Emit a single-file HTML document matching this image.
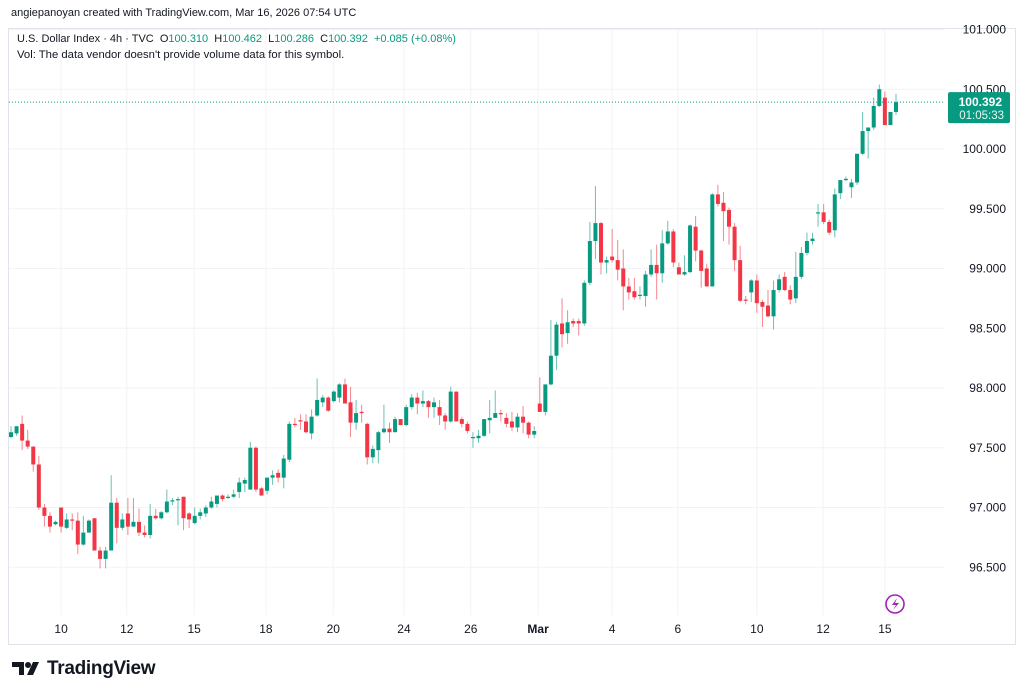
<!DOCTYPE html>
<html><head><meta charset="utf-8"><style>
html,body{margin:0;padding:0;background:#fff;}
body{width:1024px;height:698px;overflow:hidden;position:relative;font-family:"Liberation Sans",sans-serif;}
#hdr{position:absolute;left:11px;top:7px;font-size:11px;color:#131722;}
#leg1{position:absolute;left:17px;top:33px;font-size:11px;color:#131722;}
#leg2{position:absolute;left:17px;top:49px;font-size:11.3px;color:#131722;}
.g{color:#089981}
#logo{position:absolute;left:47px;top:658px;font-size:19px;font-weight:bold;color:#131722;letter-spacing:-0.3px;}
</style></head><body>
<svg id="chart" width="1024" height="698" style="position:absolute;left:0;top:0"></svg>
<div id="hdr">angiepanoyan created with TradingView.com, Mar 16, 2026 07:54 UTC</div>
<div id="leg1">U.S. Dollar Index · 4h · TVC&nbsp; O<span class="g">100.310</span>&nbsp; H<span class="g">100.462</span>&nbsp; L<span class="g">100.286</span>&nbsp; C<span class="g">100.392</span>&nbsp; <span class="g">+0.085 (+0.08%)</span></div>
<div id="leg2">Vol: The data vendor doesn't provide volume data for this symbol.</div>
<div id="logo">TradingView</div>
<script>
const opens=[97.59,97.62,97.70,97.56,97.51,97.36,97.00,96.93,96.86,97.00,96.83,96.90,96.89,96.69,96.79,96.91,96.64,96.57,96.64,97.04,96.83,96.95,96.84,96.88,96.79,96.77,96.93,96.91,96.96,97.05,97.06,97.09,96.95,96.87,96.93,96.95,97.00,97.03,97.10,97.08,97.09,97.13,97.20,97.15,97.50,97.16,97.14,97.25,97.29,97.25,97.40,97.70,97.73,97.72,97.62,97.77,97.88,97.92,97.89,97.92,98.03,97.88,97.71,97.80,97.70,97.42,97.48,97.63,97.66,97.63,97.74,97.69,97.84,97.92,97.87,97.89,97.84,97.84,97.77,97.72,97.97,97.74,97.70,97.58,97.58,97.60,97.73,97.75,97.79,97.75,97.72,97.67,97.76,97.71,97.61,97.87,97.80,98.03,98.27,98.54,98.46,98.56,98.56,98.54,98.88,99.23,99.38,99.05,99.10,99.07,99.00,98.85,98.81,98.77,98.77,98.95,99.03,98.96,99.21,99.31,99.01,98.95,98.97,99.35,99.15,99.00,98.85,99.62,99.55,99.49,99.35,99.07,98.74,98.80,98.90,98.72,98.69,98.60,98.82,98.93,98.82,98.75,98.93,99.13,99.23,99.46,99.47,99.39,99.32,99.63,99.74,99.68,99.72,99.96,100.15,100.18,100.36,100.43,100.20,100.31];
const highs=[97.68,97.68,97.77,97.65,97.51,97.43,97.03,96.96,96.89,97.00,96.95,96.95,96.96,96.93,96.90,96.91,96.67,96.67,97.27,97.08,96.95,97.08,97.08,96.99,96.85,97.03,96.99,96.97,97.15,97.08,97.09,97.09,96.96,97.00,96.99,97.02,97.09,97.10,97.11,97.11,97.15,97.25,97.25,97.55,97.51,97.17,97.25,97.31,97.32,97.44,97.72,97.75,97.78,97.78,97.82,98.08,97.94,97.93,97.98,98.04,98.08,98.01,97.90,97.86,97.71,97.52,97.64,97.86,97.71,97.76,97.74,97.86,97.95,97.96,97.98,97.90,97.92,97.90,97.79,98.01,97.97,97.76,97.72,97.63,97.65,97.74,97.90,97.98,97.82,97.79,97.80,97.79,97.85,97.72,97.68,98.09,98.03,98.57,98.55,98.75,98.65,98.58,98.58,98.90,99.39,99.69,99.39,99.10,99.33,99.24,99.16,98.92,98.92,98.85,98.98,99.16,99.20,99.32,99.40,99.33,99.05,99.11,99.37,99.44,99.16,99.04,99.63,99.70,99.64,99.51,99.38,99.19,98.77,98.91,98.95,98.74,98.82,98.90,98.95,98.97,98.86,99.14,99.18,99.30,99.30,99.54,99.54,99.41,99.67,99.74,99.77,99.75,99.96,100.31,100.18,100.43,100.54,100.48,100.31,100.462];
const lows=[97.58,97.60,97.48,97.49,97.30,96.98,96.84,96.79,96.85,96.79,96.82,96.81,96.61,96.68,96.79,96.64,96.49,96.49,96.64,96.70,96.81,96.77,96.84,96.76,96.75,96.74,96.90,96.90,96.95,97.02,96.85,96.81,96.83,96.86,96.90,96.92,96.99,97.00,97.05,97.07,97.08,97.08,97.13,97.15,97.13,97.10,97.11,97.19,97.21,97.16,97.38,97.67,97.65,97.62,97.57,97.76,97.84,97.80,97.88,97.88,97.87,97.59,97.65,97.71,97.36,97.37,97.37,97.62,97.54,97.63,97.69,97.68,97.82,97.78,97.84,97.75,97.75,97.69,97.65,97.71,97.72,97.67,97.62,97.50,97.54,97.59,97.62,97.75,97.72,97.67,97.64,97.63,97.62,97.58,97.58,97.80,97.77,98.02,98.15,98.34,98.37,98.51,98.44,98.52,98.86,99.08,98.95,98.96,99.05,98.90,98.65,98.74,98.74,98.74,98.68,98.93,98.74,98.88,99.20,99.01,98.95,98.94,98.96,99.06,98.84,98.85,98.85,99.52,99.23,99.20,98.98,98.72,98.70,98.72,98.63,98.51,98.59,98.49,98.80,98.81,98.70,98.71,98.91,99.11,99.20,99.35,99.37,99.28,99.26,99.58,99.73,99.59,99.70,99.95,99.92,100.16,100.35,100.20,100.20,100.286];
const closes=[97.63,97.68,97.56,97.51,97.36,97.00,96.93,96.84,96.88,96.84,96.90,96.89,96.69,96.79,96.89,96.64,96.57,96.64,97.04,96.83,96.90,96.84,96.88,96.79,96.77,96.93,96.91,96.96,97.05,97.06,97.07,96.91,96.90,96.93,96.96,97.00,97.05,97.10,97.07,97.09,97.11,97.21,97.23,97.50,97.15,97.10,97.25,97.27,97.25,97.41,97.70,97.69,97.72,97.63,97.76,97.90,97.92,97.81,97.97,98.03,97.87,97.71,97.79,97.79,97.42,97.49,97.63,97.66,97.63,97.74,97.69,97.84,97.92,97.87,97.89,97.84,97.88,97.77,97.72,97.97,97.72,97.70,97.64,97.59,97.60,97.74,97.75,97.79,97.78,97.70,97.67,97.76,97.71,97.61,97.64,97.80,98.03,98.27,98.53,98.45,98.55,98.54,98.54,98.88,99.23,99.38,99.05,99.07,99.07,98.99,98.85,98.80,98.76,98.78,98.95,99.03,98.96,99.21,99.31,99.05,98.95,98.97,99.36,99.15,98.98,98.85,99.62,99.54,99.48,99.35,99.07,98.73,98.73,98.90,98.71,98.68,98.60,98.82,98.91,98.82,98.74,98.93,99.13,99.23,99.25,99.47,99.39,99.30,99.62,99.74,99.75,99.72,99.96,100.15,100.18,100.36,100.50,100.20,100.31,100.392];
const priceTicks=[101,100.5,100,99.5,99,98.5,98,97.5,97,96.5];
const dateLabels=["10","12","15","18","20","24","26","Mar","4","6","10","12","15"];
const dateIndex=[9,20.8,32.9,45.8,57.9,70.6,82.6,94.7,108,119.8,134,145.9,157];
const lastPrice=100.392;

const NS="http://www.w3.org/2000/svg";
const svg=document.getElementById('chart');
const X0=11, STEP=(896-11)/159;
const xs=i=>X0+i*STEP;
const ys=p=>388-(p-98)*119.5;
function mk(t,a,parent){const e=document.createElementNS(NS,t);for(const k in a)e.setAttribute(k,a[k]);(parent||svg).appendChild(e);return e;}
const frame=mk('rect',{x:8.5,y:28.5,width:1007,height:616,fill:'none',stroke:'#e0e3eb'});


priceTicks.forEach(p=>{
  const y=ys(p);
  const l=mk('line',{x1:9,x2:945,y1:y,y2:y,stroke:'#f2f3f5'});
  
  
  const t=mk('text',{x:1006,y:y+4,'text-anchor':'end','font-size':'12','fill':'#131722','font-family':'Liberation Sans, sans-serif'});
  t.textContent=p.toFixed(3);
  
  
});
dateLabels.forEach((d,k)=>{
  const x=xs(dateIndex[k]);
  const l=mk('line',{x1:x,x2:x,y1:29,y2:615,stroke:'#f2f3f5'});
  
  
  const t=mk('text',{x:x,y:633,'text-anchor':'middle','font-size':'12','fill':'#131722','font-weight':d==='Mar'?'bold':'normal','font-family':'Liberation Sans, sans-serif'});
  t.textContent=d;
  
  
});
for(let i=0;i<closes.length;i++){
  const up=closes[i]>=opens[i];
  const col=up?'#089981':'#f23645';
  const x=xs(i);
  const g=mk('g',{});
  
  
  mk('line',{x1:x,x2:x,y1:ys(highs[i]),y2:ys(lows[i]),stroke:col,'stroke-opacity':0.6,'stroke-width':1},g);
  const t=ys(Math.max(opens[i],closes[i])), b=ys(Math.min(opens[i],closes[i]));
  mk('rect',{x:x-2,y:t,width:4,height:Math.max(1.2,b-t),fill:col},g);
}
const ly=ys(lastPrice);
const pl=mk('line',{x1:9,x2:945,y1:ly,y2:ly,stroke:'#089981','stroke-dasharray':'1,2','stroke-width':1});


const box=mk('rect',{x:948,y:ly-10,width:62,height:31,rx:2,fill:'#089981'});


const t1=mk('text',{x:1002,y:ly+4,'text-anchor':'end','font-size':'12','font-weight':'bold',fill:'#fff','font-family':'Liberation Sans, sans-serif'});
t1.textContent=lastPrice.toFixed(3);


const t2=mk('text',{x:1004,y:ly+17,'text-anchor':'end','font-size':'11.5',fill:'#e6f5f2','font-family':'Liberation Sans, sans-serif'});
t2.textContent='01:05:33';


const ic=mk('g',{});


mk('circle',{cx:895,cy:604,r:9,fill:'none',stroke:'#9c27b0','stroke-width':1.6},ic);
mk('path',{d:'M897 598 L892 605 L896 605 L893 610 L899 603 L895 603 Z',fill:'#9c27b0'},ic);
// logo mark
const lg=mk('g',{});


mk('path',{d:'M12 662 H24 V675 H19 V667 H12 Z',fill:'#131722'},lg);
mk('circle',{cx:28,cy:665,r:3,fill:'#131722'},lg);
mk('path',{d:'M33 662 H39 L33 675 H27 Z',fill:'#131722'},lg);
</script>
</body></html>
